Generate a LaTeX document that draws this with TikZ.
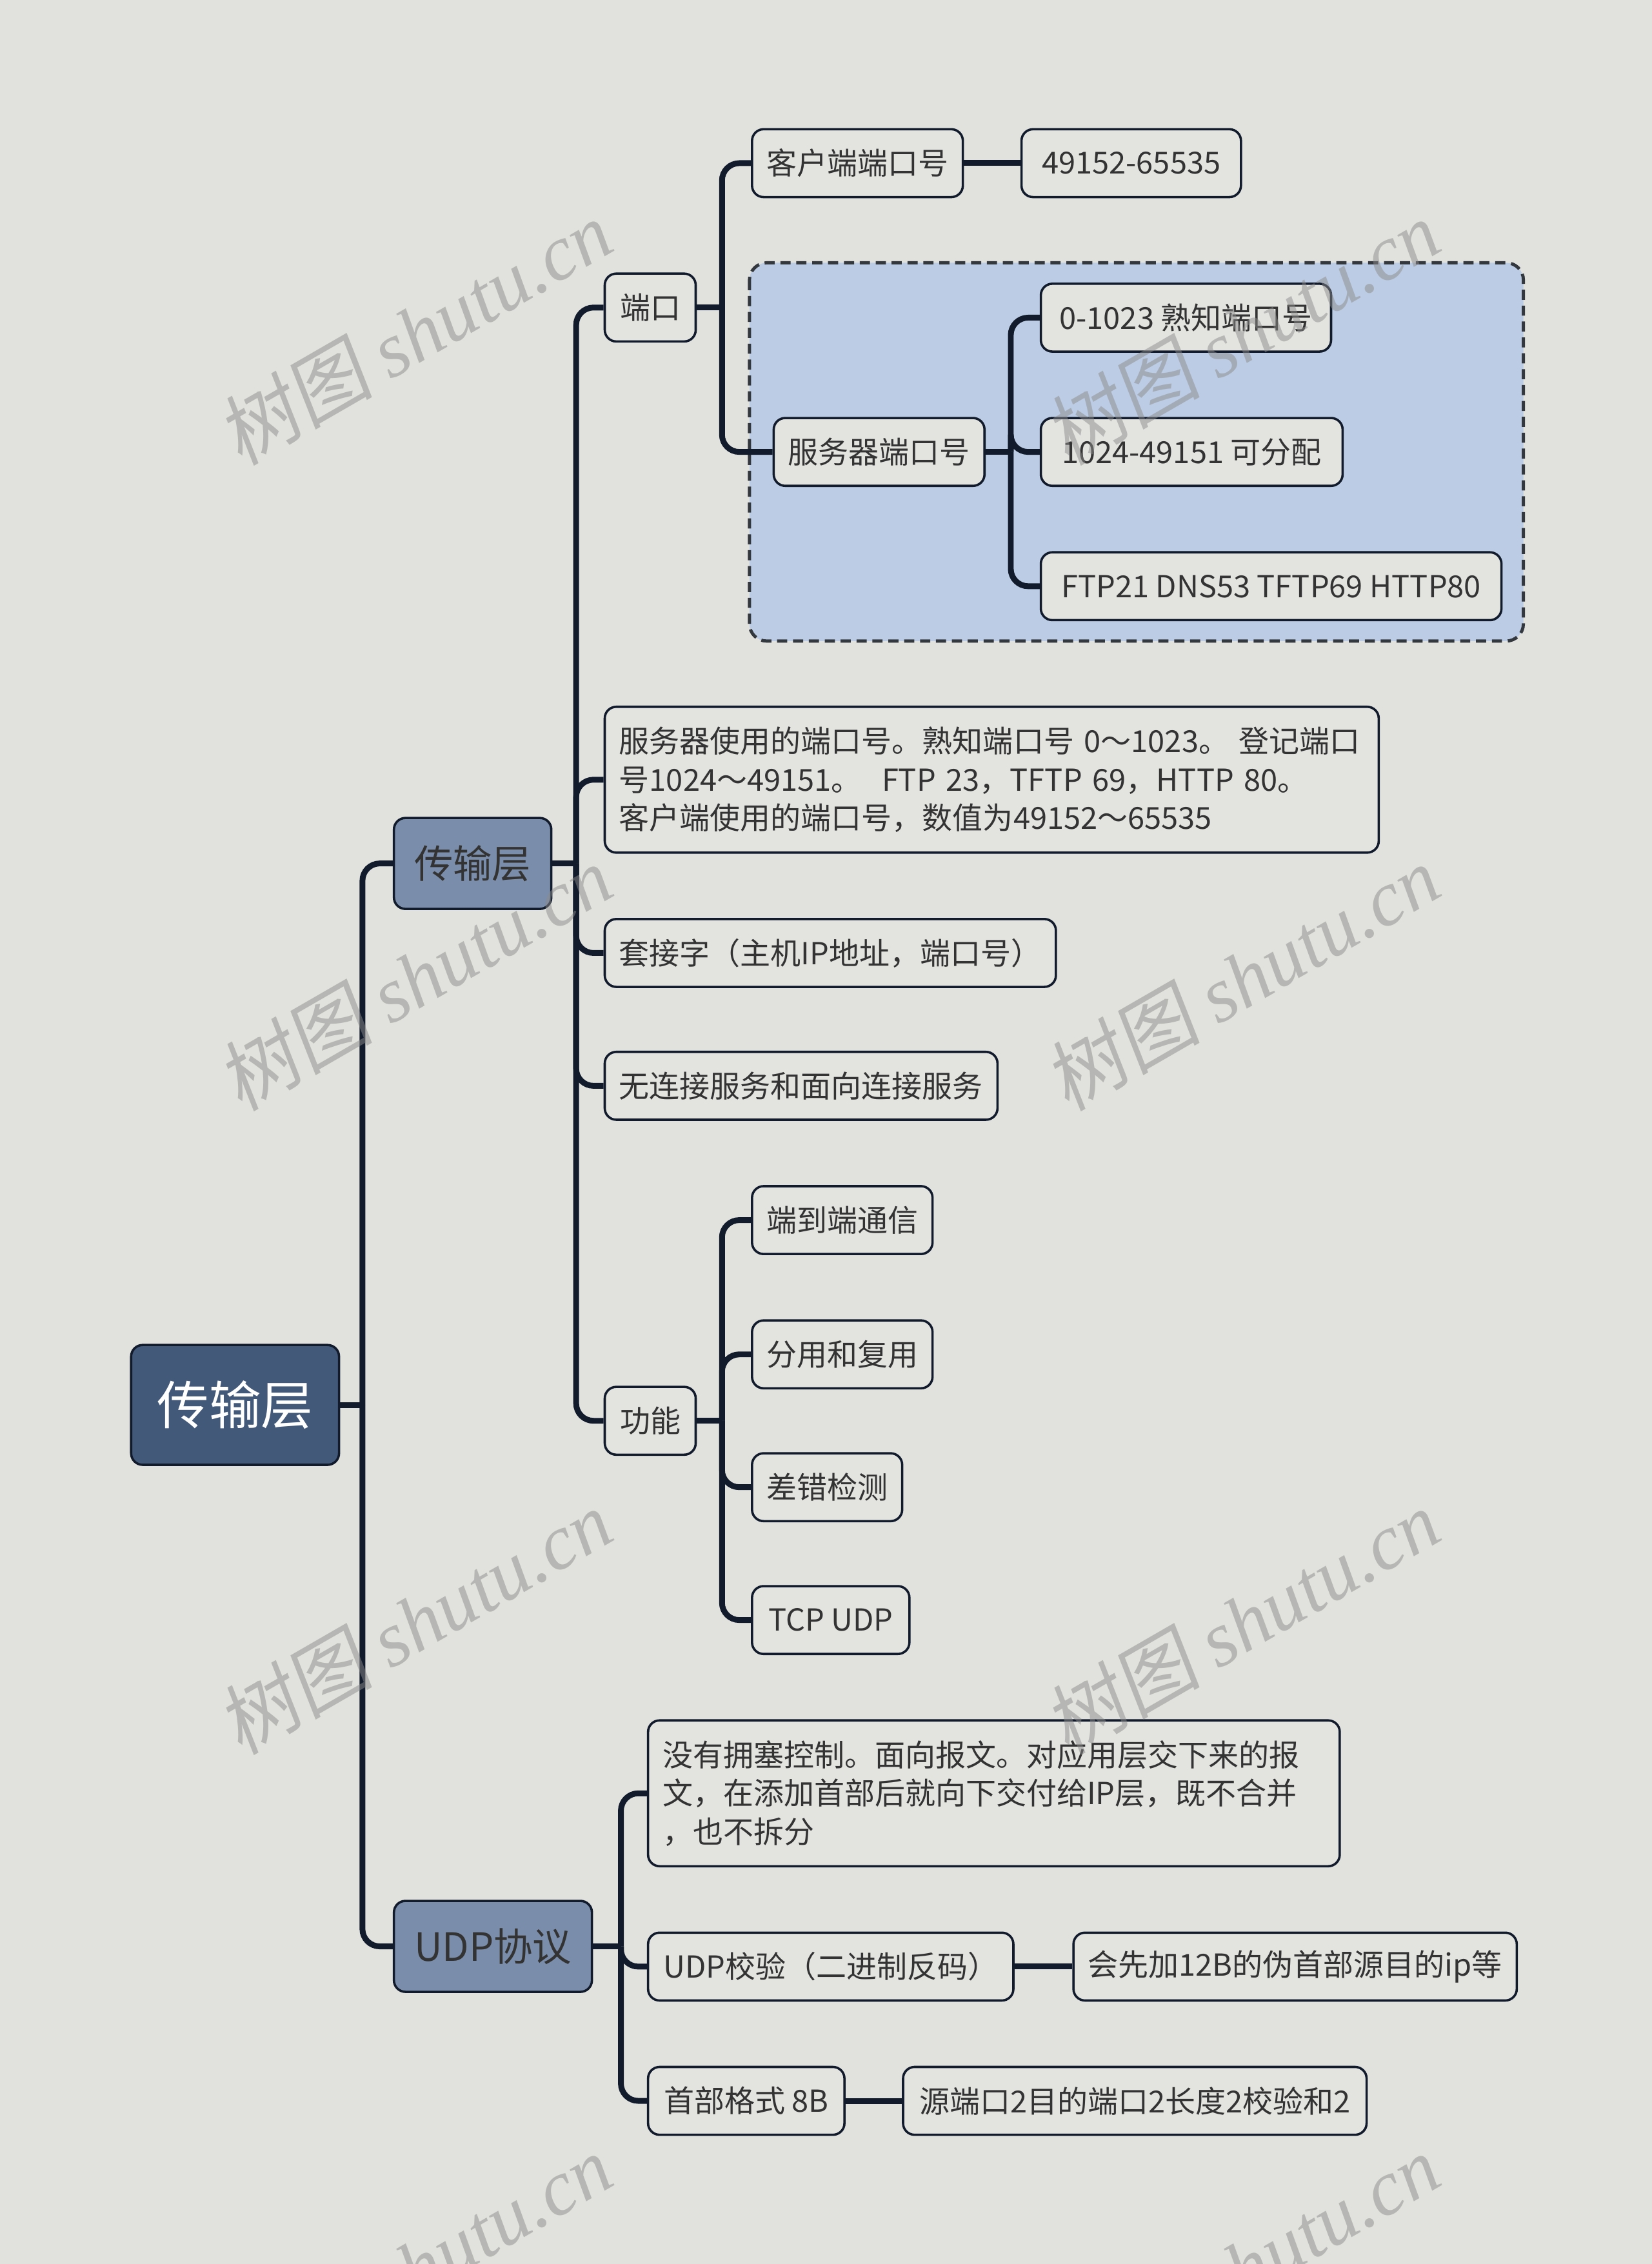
\documentclass[tikz,border=0pt]{standalone}
\usepackage{fontspec}
\setmainfont{Noto Sans CJK SC}
\newfontfamily\wmcjk[FakeSlant=0.15]{Noto Sans CJK SC}
\newfontfamily\wmlatin{Liberation Serif}
\usetikzlibrary{positioning}
\definecolor{pagebg}{HTML}{E1E2DD}
\definecolor{linedark}{HTML}{111B2B}
\definecolor{rootblue}{HTML}{43597A}
\definecolor{midblue}{HTML}{7A8DAB}
\definecolor{groupblue}{HTML}{BCCCE4}
\definecolor{leafgray}{HTML}{E3E4E0}
\definecolor{textgray}{HTML}{333333}
\definecolor{dashgray}{HTML}{33373E}

\tikzset{
  leaf/.style={draw=linedark, line width=1.6pt, fill=leafgray, rounded corners=8pt,
    anchor=west, inner xsep=10pt, inner ysep=0pt, minimum height=47pt,
    text=textgray, align=left, font=\fontsize{21}{26.5}\selectfont},
  branch/.style={leaf, fill=midblue, minimum height=63pt, inner xsep=14pt,
    font=\fontsize{27}{30}\selectfont},
  rootbox/.style={leaf, fill=rootblue, text=white, minimum height=83pt, inner xsep=18pt,
    font=\fontsize{36}{40}\selectfont},
  link/.style={draw=linedark, line width=4pt, rounded corners=12pt},
  wmark/.style={text=black!45, opacity=0.5, rotate=30, font=\fontsize{54}{54}\selectfont},
}

\begin{document}
\begin{tikzpicture}[x=1pt, y=-1pt]
  \useasboundingbox[fill=pagebg] (0,0) rectangle (1144,1568);

  % group frame
  \draw[dashgray, fill=groupblue, line width=2.2pt, dash pattern=on 7pt off 4pt,
        rounded corners=12pt] (519,182) rectangle (1055,444);

  % nodes
  \node[rootbox, minimum width=143pt] (root) at (90,973) {传输层};
  \node[branch, minimum width=108pt] (trans) at (272,598) {传输层};
  \node[branch, minimum width=137pt] (udp) at (272,1348) {UDP协议};

  \node[leaf, minimum width=63pt] (port) at (418,213) {端口};
  \node[leaf, minimum width=146pt] (client) at (520,113) {客户端端口号};
  \node[leaf, minimum width=152pt, right=39pt of client] (clientval) {49152-65535};
  \node[leaf, minimum width=146pt] (server) at (535,313) {服务器端口号};
  \node[leaf, minimum width=201pt] (well) at (720,220) {0-1023 熟知端口号};
  \node[leaf, minimum width=209pt] (reg) at (720,313) {1024-49151 可分配};
  \node[leaf, minimum width=319pt] (svc) at (720,406) {FTP21 DNS53 TFTP69 HTTP80};

  \node[leaf, minimum height=101pt, text width=516pt] (portnote) at (418,540) {服务器使用的端口号。熟知端口号 0～1023。 登记端口\\号1024～49151。 \ FTP 23，TFTP 69，HTTP 80。\\客户端使用的端口号，数值为49152～65535};
  \node[leaf, minimum width=312pt] (socket) at (418,660) {套接字（主机IP地址，端口号）};
  \node[leaf, minimum width=272pt] (conn) at (418,752) {无连接服务和面向连接服务};
  \node[leaf, minimum width=63pt] (func) at (418,984) {功能};
  \node[leaf, minimum width=125pt] (e2e) at (520,845) {端到端通信};
  \node[leaf, minimum width=125pt] (mux) at (520,938) {分用和复用};
  \node[leaf, minimum width=104pt] (err) at (520,1030) {差错检测};
  \node[leaf, minimum width=109pt] (tcpudp) at (520,1122) {TCP UDP};

  \node[leaf, minimum height=101pt, text width=459pt] (udpnote) at (448,1242) {没有拥塞控制。面向报文。对应用层交下来的报\\文，在添加首部后就向下交付给IP层，既不合并\\，也不拆分};
  \node[leaf, minimum width=253pt] (check) at (448,1362) {UDP校验（二进制反码）};
  \node[leaf, minimum width=307pt, right=40pt of check] (checkval) {会先加12B的伪首部源目的ip等};
  \node[leaf, minimum width=136pt] (head) at (448,1455) {首部格式 8B};
  \node[leaf, minimum width=321pt, right=39pt of head] (headval) {源端口2目的端口2长度2校验和2};

  % connectors
  \draw[link] (root.east) -- (251,973);
  \foreach \c in {trans,udp} \draw[link] (251,973) |- (\c.west);
  \draw[link] (trans.east) -- (399,598);
  \foreach \c in {port,portnote,socket,conn,func} \draw[link] (399,598) |- (\c.west);
  \draw[link] (port.east) -- (500,213);
  \foreach \c in {client,server} \draw[link] (500,213) |- (\c.west);
  \draw[link] (client) -- (clientval);
  \draw[link] (server.east) -- (700,313);
  \foreach \c in {well,reg,svc} \draw[link] (700,313) |- (\c.west);
  \draw[link] (func.east) -- (500,984);
  \foreach \c in {e2e,mux,err,tcpudp} \draw[link] (500,984) |- (\c.west);
  \draw[link] (udp.east) -- (430,1348);
  \foreach \c in {udpnote,check,head} \draw[link] (430,1348) |- (\c.west);
  \draw[link] (check) -- (checkval);
  \draw[link] (head) -- (headval);

  % watermark
  \foreach \wx in {287,860}
    \foreach \wy in {230,677,1123,1570}
      \node[wmark] (wm-\wx-\wy) at (\wx,\wy) {{\wmcjk 树图} {\wmlatin\itshape shutu.cn}};
\end{tikzpicture}
\end{document}
